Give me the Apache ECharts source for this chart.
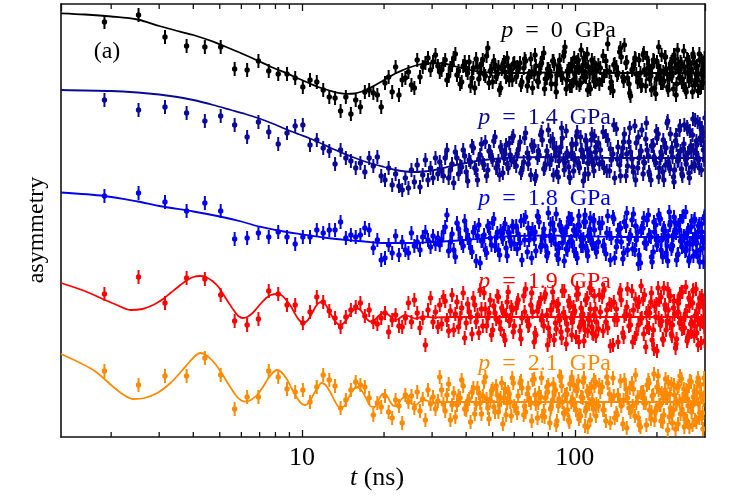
<!DOCTYPE html>
<html><head><meta charset="utf-8">
<script src="https://cdn.jsdelivr.net/npm/echarts@6/dist/echarts.min.js"></script>
<style>html,body{margin:0;padding:0;background:#fff}#c{width:747px;height:498px}</style>
</head><body><div id="c"></div>
<script>
// time bins (ns), first set
const times = [1.89,2.52,3.15,3.78,4.41,5.04,5.67,6.3,6.93,7.56,8.19,8.82,9.45,10.08,10.71,11.34,11.97,12.6,13.23,13.86,14.49,15.12,15.75,16.38,17.01,17.64,18.27,18.9,19.53,20.16,20.79,21.42,22.05,22.68,23.31,23.94,24.57,25.2,25.83,26.46,27.09,27.72,28.35,28.98,29.61,30.24,30.87,31.5,
32,33,34,35,36,37,38,39,40,41,42,43,44,45,46,47,48,49,50,51,52,53,54,55,56,57,58,59,60,
62,64,66,68,70,72,74,76,78,80,82,84,86,88,90,92,94,96,98,100,102,104,106,108,110,112,114,116,118,120,
124,128,132,136,140,144,148,152,156,160,164,168,172,176,180,184,188,192,196,200,204,208,212,216,220,224,228,232,236,240,244,248,252,256,260,264,268,272,276,280,284,288,292,296,300];
// second set of bins (long-time region)
const timesB = [32.5,33.5,34.5,35.5,36.5,37.5,38.5,39.5,40.5,41.5,42.5,43.5,44.5,45.5,46.5,47.5,48.5,49.5,50.5,51.5,52.5,53.5,54.5,55.5,56.5,57.5,58.5,59.5,
61,63,65,67,69,71,73,75,77,79,81,83,85,87,89,91,93,95,97,99,101,103,105,107,109,111,113,115,117,119,
122,126,130,134,138,142,146,150,154,158,162,166,170,174,178,182,186,190,194,198,202,206,210,214,218,222,226,230,234,238,242,246,250,254,258,262,266,270,274,278,282,286,290,294,298];
// third set of bins (long-time region)
const timesC = [61.5,63.5,65.5,67.5,69.5,71.5,73.5,75.5,77.5,79.5,81.5,83.5,85.5,87.5,89.5,91.5,93.5,95.5,97.5,99.5,101.5,103.5,105.5,107.5,109.5,111.5,113.5,115.5,117.5,119.5,
123,127,131,135,139,143,147,151,155,159,163,167,171,175,179,183,187,191,195,199,203,207,211,215,219,223,227,231,235,239,243,247,251,255,259,263,267,271,275,279,283,287,291,295,299];

// asymmetry (arbitrary units, relative to each curve's long-time value)
const asym0 = [52,59,37,28,27,27,5,4,13,3,0,0,-4,-13,-6,-8,-16,-23,-24,-37,-23,-40,-26,-33,-18,-16,-19,-21,-33,-9,-3,-18,7,-21,-6,-4,2,-11,-14,14,-3,7,11,16,4,12,19,8,
2,10,-6,6,16,-1,-10,8,4,12,-4,-14,7,1,14,-2,26,3,-8,9,0,-16,5,12,-3,8,2,-6,11,
4,-8,13,-2,-14,8,1,16,-5,5,-10,10,-1,14,-4,27,3,-12,8,0,12,-11,4,16,-3,7,-15,2,11,-6,
6,-2,30,-8,10,1,17,29,-4,-22,8,0,14,-11,4,16,-5,7,-14,12,-1,19,-7,5,-16,10,1,15,-10,4,12,-5,7,-18,14,-2,3,17,-9,8,0,-14,13,-3,5];
const asym1 = [56,46,49,43,35,40,31,19,34,24,12,23,30,31,11,16,8,5,-8,6,-2,-5,-12,-7,-16,-2,-10,-1,-20,-24,-12,-29,-18,-30,-34,-22,-32,-14,-26,-9,-31,-19,-4,-24,-12,-22,-2,-18,
-6,-20,6,-14,-27,-2,-10,6,-16,-4,10,-12,-24,1,-7,14,-14,4,-4,19,-10,-19,6,-2,11,-12,1,18,-6,
6,-14,23,-2,9,-20,1,16,-9,26,-4,8,-16,4,18,-7,0,-22,11,-4,24,-12,6,-1,15,-18,3,-6,20,-2,
6,-12,16,-4,-22,9,0,22,-10,4,-16,13,-2,26,-7,6,-19,10,-4,18,-12,1,-24,8,-6,22,-1,-14,11,-4,5,-20,31,-8,3,25,-11,6,36,11,-4,18,28,6,38];
const asym2 = [41,44,35,26,34,26,-2,-1,4,0,5,0,-7,0,0,7,4,7,7,15,-1,2,0,2,9,7,-11,-3,-23,-21,-8,-16,1,-18,-5,-13,-16,4,-9,-5,-13,0,5,-3,-10,1,-7,-1,
-8,5,22,-5,-13,14,-1,-9,7,-3,-15,9,1,-26,-4,-13,11,-1,14,-9,4,-18,0,9,-11,5,-4,11,-7,
3,-23,20,-3,8,-14,15,-1,-9,24,-3,7,-18,12,-6,2,-13,18,-5,6,-21,11,-3,15,-11,1,19,-7,7,-15,
9,-8,21,-1,-21,7,-5,15,-13,2,23,-3,-18,9,-6,17,1,-25,5,-8,19,-3,9,-16,1,15,-9,5,-23,12,-4,20,-1,-13,7,-7,16,-19,2,-6,11,-13,5,-25,-1];
const asym3 = [23,40,14,39,38,22,-4,-8,-2,26,23,12,12,-6,5,20,15,6,-1,-10,0,7,10,14,1,7,-5,-7,-1,4,-15,-3,2,-9,-10,-1,14,-5,17,4,-11,-1,-28,7,19,-5,5,-10,
12,20,-3,6,-13,15,-1,24,-6,5,-17,12,2,27,-9,8,-1,17,-13,4,21,-5,9,-19,2,25,-3,7,-9,
17,-1,28,-8,5,-18,14,1,23,-11,7,-23,11,-3,26,0,-13,14,-5,6,29,-10,2,-24,17,-2,8,-16,21,-5,
5,27,-11,12,-3,-25,17,1,28,-8,7,-17,15,-1,22,-10,4,-23,11,-34,17,-4,29,-13,7,21,-8,3,-22,14,-2,25,-11,6,-19,17,-5,27,1,-16,12,-7,21,-1,7];
const asym4 = [31,17,26,26,44,27,-7,5,5,31,25,13,10,12,0,15,27,22,16,-6,2,12,20,17,15,4,-13,-1,-5,6,-10,-16,2,-4,-21,7,0,6,-6,10,-9,3,-18,12,-2,5,-7,1,
25,-2,7,-18,9,-3,4,16,-8,3,10,-12,14,-1,6,25,-6,2,13,-10,7,-3,19,4,-13,10,0,24,-4,
6,14,-10,2,22,-2,9,-14,4,17,-5,10,-19,26,0,7,-8,18,3,-3,13,-13,5,24,-6,9,-18,2,16,-2,
10,-8,19,2,-16,7,-4,22,4,-10,13,-1,-23,10,2,17,-8,6,-18,15,-3,9,-13,4,20,-6,-21,7,-2,16,-12,3,-25,12,-4,21,-10,5,-18,10,-2,17,-16,2,9];

// values at timesB
const asym0b = [4,14,-2,9,20,3,-8,12,1,-12,6,15,-5,10,0,18,-9,5,13,-3,7,-14,9,2,16,-6,4,10,
-3,11,6,-12,15,0,-7,9,21,-4,3,13,-10,7,-1,18,-15,5,10,-6,2,14,-9,8,-2,20,-13,6,1,-8,
9,-6,13,2,-17,7,22,-3,11,-10,4,16,-8,1,19,-12,6,-2,14,-20,8,3,-9,17,0,-5,12,-15,6,24,-4,10,-11,2,15,-7,5,-18,11,0,-6,20,-13,4,9];
const asym1b = [-15,-2,-22,-8,4,-18,-11,0,-25,-6,8,-14,-3,12,-9,-20,5,-1,15,-12,-5,9,-17,2,-8,13,-4,20,
-10,14,-6,3,-19,10,-2,21,-13,5,-8,17,0,-21,9,-4,25,-11,2,-15,12,-7,19,-1,-18,7,-3,16,-9,4,
13,-6,20,-15,2,27,-9,8,-20,14,-3,30,-12,5,-18,17,0,-24,11,-7,22,-2,-16,9,33,-10,4,-21,15,-5,26,-13,7,-1,29,-17,10,21,-8,3,34,-12,16,24,-4];
const asym2b = [-3,10,-14,3,-20,8,-6,16,-1,-11,5,-24,12,-4,2,-16,9,-8,18,0,-13,6,-2,13,-19,4,-7,10,
11,-6,17,-15,4,-2,21,-10,8,-19,1,14,-7,-22,10,3,-12,19,-4,7,-17,12,0,-9,22,-14,5,-3,16,-11,
-5,14,-17,3,20,-10,8,-22,11,-2,17,-13,5,-26,9,-6,22,0,-15,12,-4,18,-20,6,-9,25,-12,2,14,-18,7,-1,21,-14,4,-24,10,-7,16,-3,-19,13,0,-11,19];
const asym3b = [-7,16,-14,22,3,-10,9,-21,13,0,19,-5,-16,8,24,-9,4,-18,11,-2,20,-12,6,-23,15,-4,10,-15,
9,-14,21,-4,12,-25,6,18,-9,2,-19,25,-6,13,-15,4,-27,16,-1,10,-20,23,-8,3,-13,19,-3,27,-17,8,
-12,20,-5,13,-28,8,24,-16,3,-9,26,-21,11,-2,18,-30,6,15,-13,0,29,-8,-22,12,-4,21,-17,9,-31,16,-6,25,-11,2,-24,19,-7,14,-19,28,-3,10,-26,17,-10];
const asym4b = [12,-9,18,-3,-15,6,22,-7,1,-20,14,-2,9,-12,20,3,-17,11,-5,16,-10,4,-22,13,-1,8,-14,19,
-6,19,-13,8,-1,23,-16,5,-9,15,-21,2,12,-4,25,-11,7,-18,0,17,-8,21,-14,4,-24,11,-2,15,-7,20,
-4,15,-19,8,24,-11,2,-22,13,-6,19,-14,5,-25,10,-1,22,-17,7,-9,26,-3,-20,12,4,-15,18,-8,-27,14,1,23,-12,6,-19,16,-5,-23,11,3,20,-16,8,-11,24];

// values at timesC
const asym0c = [7,-11,15,-4,2,19,-8,11,-15,5,-2,13,-18,8,0,22,-6,3,-12,16,-9,6,24,-3,10,-16,1,14,-7,4,
-10,18,3,-14,9,-1,26,-7,12,-19,5,15,-4,-12,21,0,8,-16,13,-5,27,-9,2,17,-13,6,-2,19,-21,10,4,-8,23,-15,1,12,-6,20,-11,7,-17,14,0,-9,16];
const asym1c = [2,-17,18,-8,11,-23,5,24,-12,0,15,-19,8,-5,28,-14,3,-21,12,-2,20,-10,6,-25,16,-7,1,22,-15,9,
-8,24,-15,7,31,-3,-20,14,2,28,-11,-24,19,5,-6,33,-16,10,-1,25,-21,4,16,-9,35,-13,8,-26,21,0,30,-18,12,-4,27,-22,6,37,-10,15,-2,32,-14,20,9];
const asym2c = [-12,16,-3,9,-21,5,20,-8,1,-16,13,-1,23,-11,6,-24,10,-5,18,-14,3,21,-9,-2,15,-19,8,-6,17,-12,
14,-9,4,-23,18,-4,9,-16,24,0,-12,11,-27,6,19,-7,2,-20,15,-3,22,-13,7,-1,-24,12,-8,20,4,-17,16,-10,1,25,-6,-21,10,-2,18,-15,5,-25,13,-5,21];
const asym3c = [14,-22,5,-9,24,-16,10,-3,20,-28,7,15,-12,1,-21,26,-7,11,-18,4,22,-25,9,-5,17,-14,29,-10,2,-19,
22,-14,7,-29,15,-3,27,-20,10,1,-25,18,-8,31,-17,4,-11,24,-32,13,-1,20,-23,8,28,-6,-19,16,-27,5,23,-12,-2,30,-21,11,-15,26,-9,3,-28,19,-4,14,-24];
const asym4c = [-11,21,-4,14,-19,7,-1,24,-15,10,-7,18,-23,3,16,-12,8,-20,25,-3,11,-17,5,20,-9,-25,13,-2,22,-14,
17,-8,25,-21,6,-13,21,2,-26,14,-4,27,-16,9,-1,-23,19,-10,28,-6,12,-19,4,23,-28,8,-12,17,1,-22,26,-7,13,-17,3,-25,20,-3,10,-20,24,-11,5,-27,18];

// fitted curves [t, asymmetry]
const fit0 = [[1.31,60.7],[1.6,59.5],[2,57.5],[2.5,54.5],[3,48],[3.5,43],[4,39],[4.73,32.3],[5.5,25],[6.2,19],[6.9,13.3],[7.8,6.5],[8.8,0.7],[9.8,-5],[10.7,-9.5],[11.6,-13.5],[12.6,-16.5],[13.6,-18.8],[14.6,-19.8],[15.6,-19.5],[16.6,-17.5],[17.6,-14.5],[18.6,-11],[19.6,-7.5],[20.6,-4],[22,0.5],[23.5,4],[24.8,6.5],[26.5,9],[28.3,10.5],[30.2,11],[32,10.8],[33.8,10],[36,8],[38.8,5.7],[41.5,3.8],[44.8,2.3],[50,1.3],[60,1],[80,1.5],[100,1.5],[150,1],[300,1]];
const fit1 = [[1.31,66],[2,65],[2.5,63.5],[3,61.5],[3.5,59],[4,56],[4.73,51],[5.5,46],[6.2,42],[6.9,38],[7.8,32.5],[8.8,26.5],[9.8,21.5],[10.7,17.5],[12,11.5],[13,7],[14.1,3],[15.5,-1.5],[17,-5.5],[18.5,-8.5],[20,-11],[22,-14],[24,-15.5],[26,-16],[28,-15.5],[30,-14.5],[33,-12],[36,-9.5],[40,-7],[45,-4.5],[50,-3],[60,-1.5],[80,-1],[100,-1.5],[150,-2],[300,-2]];
const fit2 = [[1.31,44.5],[1.89,41],[2.5,35.5],[3,31],[4,25.5],[5,20.5],[6,15.5],[7,10.3],[8,7],[9,4.5],[10,2.7],[12,-0.5],[14,-2.5],[17,-4.5],[20,-6],[25,-6],[30,-5],[40,-3],[50,-0.5],[60,1],[80,1.5],[100,1],[150,0],[300,0]];
const fit3 = [[1.31,34],[1.6,26],[1.9,17],[2.1,12],[2.35,7],[2.6,8],[2.85,12],[3.1,18],[3.3,24],[3.55,31],[3.8,37],[4.0,40],[4.23,41],[4.45,40],[4.7,36],[4.95,30],[5.17,22],[5.4,14],[5.65,6],[5.85,1],[6.08,-1],[6.3,0],[6.6,4],[6.85,9],[7.1,14],[7.4,19],[7.7,22],[8.1,23],[8.4,22],[8.7,18],[9.1,11],[9.4,4],[9.7,-2],[10.1,-6],[10.4,-4.5],[10.7,0],[11.0,6],[11.3,11.5],[11.6,14.5],[11.9,15],[12.2,12.5],[12.6,6],[13.0,-1],[13.4,-6],[13.8,-8],[14.2,-6.5],[14.7,-1],[15.2,5],[15.8,8.5],[16.3,7.5],[16.8,3],[17.3,-2],[17.8,-4.5],[18.4,-3.5],[19.0,0.5],[19.6,3.5],[20.1,4.5],[20.6,3],[21.2,0],[21.6,-2.5],[22.0,-3],[22.7,-1.5],[23.4,1],[24.0,2],[24.6,1],[25.3,-0.5],[26.0,-1.5],[27.0,-0.5],[28.0,0.5],[29.0,0],[30,-0.5],[35,0],[300,0]];
const fit4 = [[1.31,48],[1.72,32],[2.0,17],[2.2,8],[2.4,3],[2.65,4],[2.95,9],[3.3,19],[3.6,30],[3.9,41],[4.1,47],[4.25,49],[4.45,47],[4.75,40],[5.05,30],[5.4,17],[5.75,6],[6.0,1.5],[6.2,0.3],[6.5,2],[6.85,7],[7.2,15],[7.5,23],[7.8,29],[8.1,32],[8.4,30],[8.8,23],[9.2,13],[9.6,4],[9.95,-1.5],[10.3,-3],[10.65,0],[11.0,7],[11.4,14],[11.8,19],[12.2,17],[12.7,10],[13.2,1],[13.8,-6],[14.3,-4],[14.8,4],[15.4,12],[15.9,15],[16.5,12],[17.1,5],[17.8,-4],[18.4,-5],[19.1,2],[19.8,8],[20.5,6],[21.1,0],[21.7,-4],[22.5,-2],[23.2,3],[23.8,5],[24.5,3],[25.3,-2],[26.1,-3],[27,0],[28,2],[29,1],[30,-1],[32,0],[300,0]];

const offsets = [363, 281, 200, 120, 35];   // vertical shift for clarity
const errBars = [7, 7, 7, 7, 7];
const pressures = ['0', '1.4', '1.8', '1.9', '2.1'];
const colors = ['#000000', '#0a0a96', '#0000f0', '#ff0000', '#ff8a00'];
const minorTicks = [2,3,4,5,6,7,8,9,20,30,40,50,60,70,80,90,200];

const FONT = 'Liberation Serif';
const sets = [
  [times, [asym0, asym1, asym2, asym3, asym4]],
  [timesB, [asym0b, asym1b, asym2b, asym3b, asym4b]],
  [timesC, [asym0c, asym1c, asym2c, asym3c, asym4c]]
];
const fits = [fit0, fit1, fit2, fit3, fit4];
const frameColor = '#111';

const series = [];
for (let i = 0; i < 5; i++) {
  const data = [];
  sets.forEach(([ts, arrs]) => {
    ts.forEach((t, k) => { const v = arrs[i][k]; if (v !== undefined) data.push([t, offsets[i] + v, errBars[i]]); });
  });
  series.push({
    type: 'custom', coordinateSystem: 'cartesian2d', xAxisIndex: 0, yAxisIndex: 0,
    clip: true, z: 2, silent: true, data: data, encode: { x: 0, y: 1 },
    renderItem: function (params, api) {
      const t = api.value(0), v = api.value(1), e = api.value(2);
      const p = api.coord([t, v]);
      const a = api.coord([t, v + e]);
      const b = api.coord([t, v - e]);
      return { type: 'group', children: [
        { type: 'line', shape: { x1: p[0], y1: a[1], x2: p[0], y2: b[1] }, style: { stroke: colors[i], lineWidth: 2 } },
        { type: 'circle', shape: { cx: p[0], cy: p[1], r: 2.7 }, style: { fill: colors[i] } }
      ]};
    }
  });
}
fits.forEach((f, i) => {
  series.push({
    type: 'line', xAxisIndex: 0, yAxisIndex: 0, z: 3, silent: true, clip: true,
    showSymbol: false, smooth: 0.3,
    data: f.map(d => [d[0], offsets[i] + d[1]]),
    lineStyle: { color: colors[i], width: 1.8 }
  });
});
series.push({
  type: 'custom', coordinateSystem: 'cartesian2d', xAxisIndex: 0, yAxisIndex: 0,
  clip: false, z: 6, silent: true, data: minorTicks.map(t => [t, 0]), encode: { x: 0, y: 1 },
  renderItem: function (params, api) {
    const x = api.coord([api.value(0), 0])[0];
    const cs = params.coordSys;
    const yb = cs.y + cs.height, yt = cs.y;
    return { type: 'group', children: [
      { type: 'line', shape: { x1: x, y1: yb, x2: x, y2: yb - 5 }, style: { stroke: frameColor, lineWidth: 1.3 } },
      { type: 'line', shape: { x1: x, y1: yt, x2: x, y2: yt + 5 }, style: { stroke: frameColor, lineWidth: 1.3 } }
    ]};
  }
});

function xAxisDef(pos, labels) {
  return {
    type: 'log', logBase: 10, min: 1.31, max: 300, position: pos,
    axisLine: { show: true, onZero: false, lineStyle: { color: frameColor, width: 1.6 } },
    axisTick: { show: true, inside: true, length: 7, lineStyle: { color: frameColor, width: 1.3 } },
    axisLabel: { show: labels, fontFamily: FONT, fontSize: 26, color: '#000', margin: 8, showMinLabel: false, showMaxLabel: false },
    splitLine: { show: false }, minorTick: { show: false }
  };
}
function yAxisDef(pos) {
  return {
    type: 'value', min: 0, max: 433, position: pos,
    axisLine: { show: true, onZero: false, lineStyle: { color: frameColor, width: 1.6 } },
    axisTick: { show: false }, axisLabel: { show: false }, splitLine: { show: false }
  };
}

const graphic = [];
const labelY = [31, 118, 199, 282, 364];
const labelRight = [616, 611, 611, 611, 611];
pressures.forEach((p, i) => {
  graphic.push({
    type: 'text', x: labelRight[i], y: labelY[i], z: 100, silent: true,
    style: {
      text: '{i|p}{n|  =  ' + p + '  GPa}',
      rich: {
        i: { fontFamily: FONT, fontSize: 24, fontStyle: 'italic', fill: colors[i], color: colors[i] },
        n: { fontFamily: FONT, fontSize: 24, fill: colors[i], color: colors[i] }
      },
      fontFamily: FONT, fontSize: 24, fill: colors[i],
      align: 'right', textAlign: 'right', verticalAlign: 'middle', textVerticalAlign: 'middle'
    }
  });
});
graphic.push({
  type: 'text', x: 107, y: 52, z: 100, silent: true,
  style: { text: '(a)', fontFamily: FONT, fontSize: 24, fill: '#000', align: 'center', textAlign: 'center', verticalAlign: 'middle', textVerticalAlign: 'middle' }
});
graphic.push({
  type: 'text', x: 37, y: 230, rotation: Math.PI / 2, z: 100, silent: true,
  style: { text: 'asymmetry', fontFamily: FONT, fontSize: 24, fill: '#000', align: 'center', textAlign: 'center', verticalAlign: 'middle', textVerticalAlign: 'middle' }
});
graphic.push({
  type: 'text', x: 377, y: 478, z: 100, silent: true,
  style: {
    text: '{i|t}{n| (ns)}',
    rich: {
      i: { fontFamily: FONT, fontSize: 26, fontStyle: 'italic', fill: '#000', color: '#000' },
      n: { fontFamily: FONT, fontSize: 26, fill: '#000', color: '#000' }
    },
    fontFamily: FONT, fontSize: 26, fill: '#000',
    align: 'center', textAlign: 'center', verticalAlign: 'middle', textVerticalAlign: 'middle'
  }
});

const chart = echarts.init(document.getElementById('c'), null, { renderer: 'canvas' });
chart.setOption({
  animation: false,
  backgroundColor: '#fff',
  grid: { left: 61, right: 42, top: 4, bottom: 61, containLabel: false, outerBoundsMode: 'none' },
  xAxis: [xAxisDef('bottom', true), xAxisDef('top', false)],
  yAxis: [yAxisDef('left'), yAxisDef('right')],
  series: series,
  graphic: graphic
});
</script></body></html>
